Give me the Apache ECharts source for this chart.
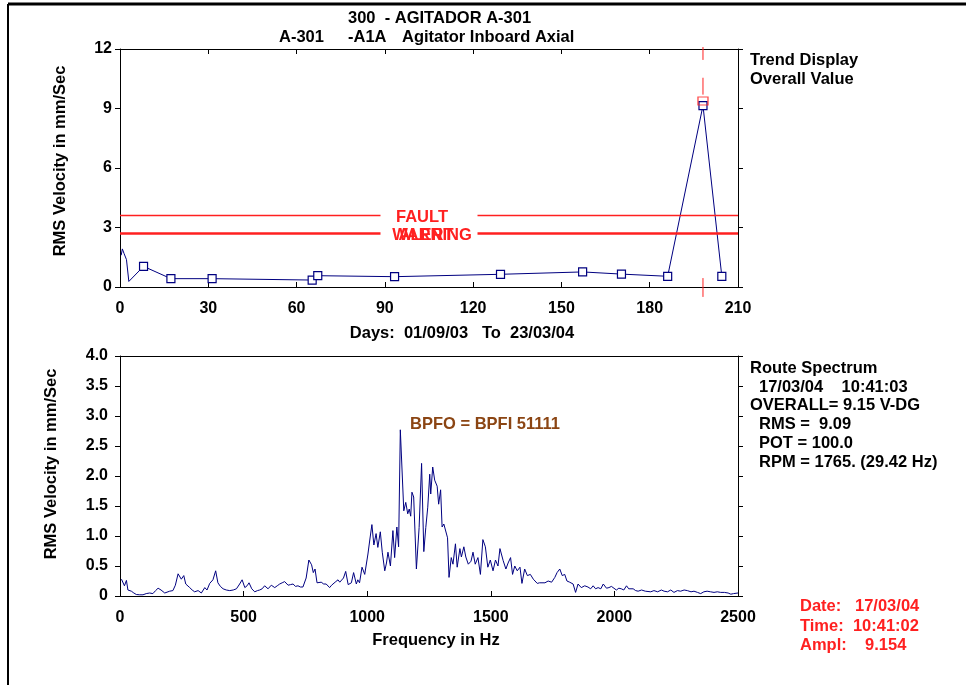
<!DOCTYPE html>
<html>
<head>
<meta charset="utf-8">
<script src="https://cdn.jsdelivr.net/npm/echarts@6/dist/echarts.min.js"></script>
<style>
html,body{margin:0;padding:0;background:#fff;}
#main{width:966px;height:685px;}
</style>
</head>
<body>
<div id="main"></div>
<script>
// 趋势图: 开头一段 (无标记)
var leadDays = [0.4, 0.8, 1.4, 1.8, 2.2, 3.0];
var leadVals = [1.60, 1.92, 1.68, 1.71, 1.38, 0.28];
// 趋势图: 测点 (方块标记)
var trendDays = [8.0, 17.3, 31.3, 65.3, 67.2, 93.3, 129.3, 157.2, 170.4, 186.1, 198.1, 204.5];
var trendVals = [1.04, 0.42, 0.42, 0.35, 0.57, 0.52, 0.64, 0.76, 0.65, 0.54, 9.15, 0.54];
// 光标
var cursorDay = 198.1;
var cursorVal = 9.38;
// 报警线
var faultLevel = 3.6;
var warnLevel = 2.7;
var alertLevel = 2.7;
// 刻度
var dayTicks = [0, 30, 60, 90, 120, 150, 180, 210];
var trendTicks = [0, 3, 6, 9, 12];
var freqTicks = [0, 500, 1000, 1500, 2000, 2500];
var ampTicks = [0, 0.5, 1.0, 1.5, 2.0, 2.5, 3.0, 3.5, 4.0];

// 频谱
var specFreq = [6,12,18,26,32,46,56,66,80,93,106,120,133,144,154,166,181,201,214,224,235,248,258,266,282,292,302,316,329,343,352,363,376,387,396,406,417,430,444,458,471,484,494,505,514,522,533,545,556,565,575,585,599,612,626,636,646,656,666,680,690,700,710,720,730,740,753,764,775,782,789,797,805,814,824,834,848,856,864,873,882,889,895,904,913,923,929,936,945,950,956,962,969,979,990,1003,1011,1019,1027,1036,1043,1053,1061,1071,1078,1084,1094,1104,1111,1120,1127,1134,1148,1156,1164,1170,1176,1181,1188,1199,1210,1220,1229,1237,1245,1253,1257,1265,1273,1283,1289,1297,1303,1310,1318,1325,1331,1340,1347,1357,1364,1375,1381,1391,1399,1409,1420,1428,1437,1448,1458,1468,1478,1488,1498,1509,1519,1529,1537,1550,1561,1570,1580,1588,1597,1607,1618,1626,1637,1648,1660,1672,1680,1688,1697,1705,1719,1732,1746,1759,1768,1779,1789,1799,1808,1819,1833,1843,1853,1866,1880,1893,1904,1914,1924,1934,1945,1955,1968,1978,1988,2008,2018,2028,2038,2049,2058,2065,2076,2086,2096,2110,2125,2147,2160,2175,2190,2201,2215,2228,2241,2255,2268,2282,2295,2310,2322,2336,2349,2362,2375,2389,2403,2416,2430,2445,2460,2471,2482,2490,2500];
var specAmp = [0.28,0.27,0.17,0.26,0.10,0.08,0.05,0.025,0.02,0.02,0.04,0.05,0.04,0.09,0.13,0.10,0.05,0.08,0.09,0.18,0.37,0.28,0.34,0.20,0.14,0.10,0.07,0.09,0.05,0.14,0.10,0.21,0.27,0.42,0.22,0.16,0.12,0.10,0.09,0.10,0.12,0.20,0.27,0.14,0.17,0.22,0.12,0.07,0.09,0.10,0.12,0.17,0.12,0.18,0.14,0.17,0.20,0.22,0.24,0.18,0.19,0.20,0.16,0.17,0.15,0.15,0.30,0.60,0.52,0.39,0.45,0.22,0.22,0.23,0.20,0.20,0.14,0.18,0.20,0.24,0.27,0.23,0.22,0.30,0.41,0.19,0.18,0.22,0.39,0.40,0.20,0.27,0.22,0.48,0.36,0.70,0.95,1.19,0.85,1.04,0.81,1.07,0.73,0.42,0.55,0.73,0.50,1.09,0.64,1.15,0.82,2.77,1.42,1.56,1.37,1.45,1.33,1.73,1.65,0.45,1.14,2.21,0.74,1.14,1.48,2.03,1.70,2.15,1.93,1.83,1.53,1.77,1.15,1.20,1.23,0.97,0.31,0.64,0.53,0.87,0.48,0.79,0.65,0.82,0.65,0.53,0.58,0.73,0.53,0.64,0.36,0.94,0.82,0.48,0.60,0.42,0.60,0.50,0.79,0.59,0.45,0.55,0.64,0.36,0.50,0.42,0.48,0.21,0.45,0.34,0.36,0.28,0.25,0.21,0.22,0.20,0.22,0.25,0.23,0.31,0.39,0.45,0.34,0.36,0.25,0.23,0.20,0.06,0.20,0.14,0.17,0.15,0.12,0.17,0.12,0.14,0.12,0.20,0.13,0.14,0.16,0.10,0.13,0.12,0.10,0.17,0.12,0.13,0.12,0.09,0.08,0.10,0.08,0.07,0.09,0.07,0.10,0.08,0.07,0.10,0.06,0.09,0.08,0.10,0.09,0.07,0.08,0.06,0.04,0.07,0.08,0.07,0.06,0.07,0.06,0.06,0.05,0.03,0.04,0.03,0.05];

var FONT = '"Liberation Sans", Arial, sans-serif';
var NAVY = '#000080';
var RED = '#ff2020';

function mkText(str, x, y, color, align, rot) {
    return {
        type: 'text', x: x, y: y, rotation: rot || 0, silent: true, z: 20,
        style: {
            text: str, fill: color || '#000',
            fontFamily: FONT, fontWeight: 'bold', fontSize: 16.5,
            align: align || 'left', verticalAlign: 'middle',
            textAlign: align || 'left', textVerticalAlign: 'middle'
        }
    };
}

function axisBase(ticks) {
    return {
        min: ticks[0],
        max: ticks[ticks.length - 1],
        interval: ticks[1] - ticks[0],
        type: 'value',
        splitLine: {show: false},
        axisLine: {show: true, onZero: false, lineStyle: {color: '#000', width: 1}},
        axisTick: {show: true, length: 5, lineStyle: {color: '#000'}},
        axisLabel: {color: '#000', fontFamily: FONT, fontWeight: 'bold', fontSize: 16,
            formatter: function (v) { return String(v); }}
    };
}
function ax(ticks, extra) {
    var a = axisBase(ticks);
    for (var k in extra) {
        if (typeof extra[k] === 'object' && a[k]) {
            for (var j in extra[k]) a[k][j] = extra[k][j];
        } else {
            a[k] = extra[k];
        }
    }
    return a;
}

var trendData = [];
for (var i = 0; i < leadDays.length; i++) {
    trendData.push({value: [leadDays[i], leadVals[i]], symbol: 'none'});
}
for (var i = 0; i < trendDays.length; i++) {
    trendData.push([trendDays[i], trendVals[i]]);
}
var specData = [];
for (var i = 0; i < specFreq.length; i++) {
    specData.push([specFreq[i], specAmp[i]]);
}

// 报警线中间留白 (文字另画)
var gapLabel = {
    show: true, position: 'middle', distance: 0, formatter: ' ',
    backgroundColor: '#fff', width: 97, height: 12, padding: 0,
    align: 'center', verticalAlign: 'middle'
};

var chart = echarts.init(document.getElementById('main'));
var option = {
    animation: false,
    backgroundColor: '#fff',
    grid: [
        {left: 120, right: 228, top: 49, height: 238},
        {left: 120, right: 228, top: 356, height: 240}
    ],
    xAxis: [
        ax(dayTicks, {gridIndex: 0, position: 'bottom', axisTick: {inside: true}, axisLabel: {margin: 14}}),
        ax(dayTicks, {gridIndex: 0, position: 'top', axisTick: {inside: true}, axisLabel: {show: false}}),
        ax(freqTicks, {gridIndex: 1, position: 'bottom', axisTick: {inside: true}, axisLabel: {margin: 14}}),
        ax(freqTicks, {gridIndex: 1, position: 'top', axisTick: {show: false}, axisLabel: {show: false}})
    ],
    yAxis: [
        ax(trendTicks, {gridIndex: 0, position: 'left', axisLabel: {margin: 8}}),
        ax(trendTicks, {gridIndex: 0, position: 'right', axisLabel: {show: false}}),
        ax(ampTicks, {gridIndex: 1, position: 'left', axisLabel: {margin: 12,
            formatter: function (v) { return v === 0 ? '0' : v.toFixed(1); }}}),
        ax(ampTicks, {gridIndex: 1, position: 'right', axisLabel: {show: false}})
    ],
    series: [
        {
            type: 'line', xAxisIndex: 0, yAxisIndex: 0,
            data: trendData,
            symbol: 'rect', symbolSize: 8,
            lineStyle: {color: NAVY, width: 1},
            itemStyle: {color: '#fff', borderColor: NAVY, borderWidth: 1.2},
            markLine: {
                silent: true, symbol: 'none', animation: false,
                emphasis: {disabled: true},
                lineStyle: {color: RED, type: 'solid', width: 1.4, opacity: 1},
                label: gapLabel,
                data: [
                    {yAxis: faultLevel, lineStyle: {color: RED, width: 1.4, type: 'solid', opacity: 1}},
                    {yAxis: warnLevel, lineStyle: {color: RED, width: 2.6, type: 'solid', opacity: 1}}
                ]
            }
        },
        {
            type: 'scatter', xAxisIndex: 0, yAxisIndex: 0,
            data: [[cursorDay, cursorVal]],
            symbol: 'rect', symbolSize: [10, 8],
            itemStyle: {color: 'rgba(255,255,255,0)', borderColor: RED, borderWidth: 1.2},
            z: 5
        },
        {
            type: 'line', xAxisIndex: 2, yAxisIndex: 2,
            data: specData, symbol: 'none',
            lineStyle: {color: NAVY, width: 1}
        }
    ]
};
chart.setOption(option);

// 光标竖线 (虚线段)
var cx = chart.convertToPixel({xAxisIndex: 0}, cursorDay);
var midX = chart.convertToPixel({xAxisIndex: 0}, (dayTicks[0] + dayTicks[dayTicks.length - 1]) / 2);
function py(v) { return chart.convertToPixel({yAxisIndex: 0}, v); }
var cursorSegs = [[12.1, 11.45], [10.55, 9.7], [0.45, -0.5]];
var g = [];
g.push({type: 'line', shape: {x1: 8, y1: 4, x2: 966, y2: 4}, style: {stroke: '#000', lineWidth: 3}, silent: true});
g.push({type: 'line', shape: {x1: 8, y1: 4, x2: 8, y2: 685}, style: {stroke: '#000', lineWidth: 2}, silent: true});
for (var i = 0; i < cursorSegs.length; i++) {
    g.push({type: 'line', silent: true, z: 10,
        shape: {x1: cx, y1: py(cursorSegs[i][0]), x2: cx, y2: py(cursorSegs[i][1])},
        style: {stroke: RED, lineWidth: 1}});
}
// 报警线文字, ALERT 与 WARNING 重叠
g.push(mkText('FAULT', midX - 7, py(faultLevel) + 2, RED, 'center'));
g.push(mkText('WARNING', midX + 3, py(warnLevel) + 2, RED, 'center'));
g.push(mkText('ALERT', midX - 3, py(alertLevel) + 2, RED, 'center'));
g.push(mkText('300  - AGITADOR A-301', 348, 18));
g.push(mkText('A-301', 279, 37));
g.push(mkText('-A1A', 348, 37));
g.push(mkText('Agitator Inboard Axial', 402, 37));
g.push(mkText('Trend Display', 750, 60));
g.push(mkText('Overall Value', 750, 79));
g.push(mkText('RMS Velocity in mm/Sec', 60, 161, '#000', 'center', Math.PI / 2));
g.push(mkText('RMS Velocity in mm/Sec', 51, 464, '#000', 'center', Math.PI / 2));
g.push(mkText('Days:  01/09/03   To  23/03/04', 462, 333, '#000', 'center'));
g.push(mkText('Frequency in Hz', 436, 640, '#000', 'center'));
g.push(mkText('BPFO = BPFI 51111', 410, 424, '#8B4513'));
g.push(mkText('Route Spectrum', 750, 368));
g.push(mkText('17/03/04    10:41:03', 759, 387));
g.push(mkText('OVERALL= 9.15 V-DG', 750, 405));
g.push(mkText('RMS =  9.09', 759, 424));
g.push(mkText('POT = 100.0', 759, 443));
g.push(mkText('RPM = 1765. (29.42 Hz)', 759, 462));
g.push(mkText('Date:   17/03/04', 800, 606, RED));
g.push(mkText('Time:  10:41:02', 800, 626, RED));
g.push(mkText('Ampl:    9.154', 800, 645, RED));
chart.setOption({graphic: g});
</script>
</body>
</html>
